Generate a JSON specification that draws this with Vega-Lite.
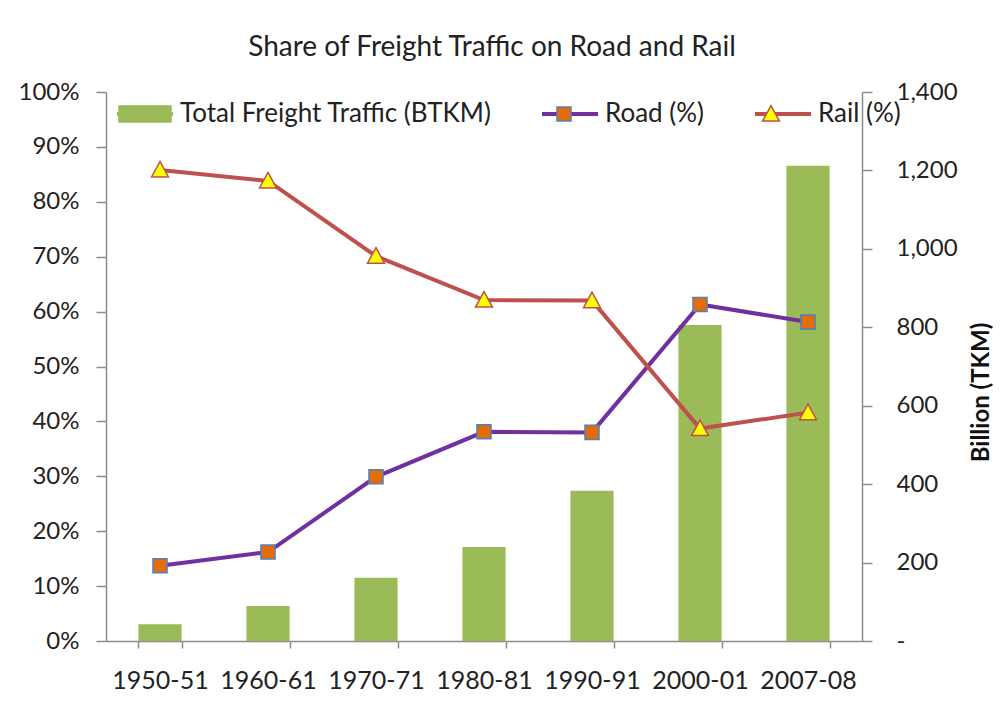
{
  "$schema": "https://vega.github.io/schema/vega-lite/v6.json",
  "autosize": "none",
  "width": 756,
  "height": 549,
  "padding": {"left": 106, "top": 92, "right": 143, "bottom": 67},
  "background": "white",
  "config": {
    "font": "Lato",
    "view": {"stroke": null},
    "axis": {"labelFont": "Lato", "labelFontSize": 24, "labelColor": "#222222", "domainColor": "#8c8c8c", "tickColor": "#8c8c8c", "domainWidth": 1.5, "tickWidth": 1.5, "grid": false},
    "legend": {"labelFont": "Lato", "labelFontSize": 26, "labelColor": "#222222", "labelLimit": 0}
  },
  "title": {"text": "Share of Freight Traffic on Road and Rail", "fontSize": 28, "font": "Lato", "fontWeight": "normal", "color": "#222222", "anchor": "middle", "dx": 8, "offset": 18},
  "data": {"values": [
    {"period": "1950-51", "series": "Total Freight Traffic (BTKM)", "value": 43},
    {"period": "1960-61", "series": "Total Freight Traffic (BTKM)", "value": 89},
    {"period": "1970-71", "series": "Total Freight Traffic (BTKM)", "value": 161},
    {"period": "1980-81", "series": "Total Freight Traffic (BTKM)", "value": 240},
    {"period": "1990-91", "series": "Total Freight Traffic (BTKM)", "value": 383},
    {"period": "2000-01", "series": "Total Freight Traffic (BTKM)", "value": 806},
    {"period": "2007-08", "series": "Total Freight Traffic (BTKM)", "value": 1212},
    {"period": "1950-51", "series": "Road (%)", "value": 13.7},
    {"period": "1960-61", "series": "Road (%)", "value": 16.2},
    {"period": "1970-71", "series": "Road (%)", "value": 29.9},
    {"period": "1980-81", "series": "Road (%)", "value": 38.1},
    {"period": "1990-91", "series": "Road (%)", "value": 38.0},
    {"period": "2000-01", "series": "Road (%)", "value": 61.3},
    {"period": "2007-08", "series": "Road (%)", "value": 58.1},
    {"period": "1950-51", "series": "Rail (%)", "value": 85.8},
    {"period": "1960-61", "series": "Rail (%)", "value": 83.8},
    {"period": "1970-71", "series": "Rail (%)", "value": 70.1},
    {"period": "1980-81", "series": "Rail (%)", "value": 62.1},
    {"period": "1990-91", "series": "Rail (%)", "value": 62.0},
    {"period": "2000-01", "series": "Rail (%)", "value": 38.7},
    {"period": "2007-08", "series": "Rail (%)", "value": 41.6}
  ]},
  "encoding": {
    "x": {
      "field": "period", "type": "ordinal",
      "scale": {"paddingInner": 0.6, "paddingOuter": 0.3},
      "axis": {"title": null, "labelAngle": 0, "labelFontSize": 25, "tickBand": "extent", "tickSize": 7, "labelPadding": 20}
    }
  },
  "layer": [
    {
      "transform": [{"filter": "datum.series === 'Total Freight Traffic (BTKM)'"}],
      "mark": {"type": "bar"},
      "encoding": {
        "y": {
          "field": "value", "type": "quantitative",
          "scale": {"domain": [0, 1400], "nice": false},
          "axis": {
            "orient": "right", "values": [0, 200, 400, 600, 800, 1000, 1200, 1400],
            "labelExpr": "datum.value === 0 ? '-' : format(datum.value, ',')",
            "tickSize": 10, "labelPadding": 24,
            "title": "Billion (TKM)", "titleFontSize": 24, "titleFontWeight": "bold", "titleColor": "#111111",
            "titleAngle": 270, "titleX": 119, "titleY": 300, "titleAlign": "center", "titleBaseline": "middle"
          }
        },
        "color": {
          "field": "series", "type": "nominal",
          "scale": {"domain": ["Total Freight Traffic (BTKM)", "Road (%)", "Rail (%)"], "range": ["#9BBB59", "#7030A0", "#C0504D"]},
          "legend": {
            "title": null, "orient": "none", "legendX": 9, "legendY": -8, "direction": "horizontal",
            "padding": 0, "symbolSize": 3136, "symbolStrokeWidth": 4, "labelOffset": 5, "columnPadding": 42,
            "symbolType": "M-1,0H1", "symbolOpacity": 1
          }
        }
      }
    },
    {
      "transform": [{"filter": "datum.series !== 'Total Freight Traffic (BTKM)'"}],
      "encoding": {
        "y": {
          "field": "value", "type": "quantitative",
          "scale": {"domain": [0, 100], "nice": false},
          "axis": {
            "orient": "left", "values": [0, 10, 20, 30, 40, 50, 60, 70, 80, 90, 100],
            "labelExpr": "datum.value + '%'", "tickSize": 10, "labelPadding": 17, "title": null
          }
        }
      },
      "layer": [
        {
          "mark": {"type": "line", "strokeWidth": 4},
          "encoding": {
            "color": {"field": "series", "type": "nominal"}
          }
        },
        {
          "mark": {"type": "point", "filled": true, "opacity": 1, "size": 3422, "strokeWidth": 1.5},
          "encoding": {
            "shape": {
              "field": "series", "type": "nominal",
              "scale": {"domain": ["Total Freight Traffic (BTKM)", "Road (%)", "Rail (%)", "zz"], "range": ["M-0.889,-0.274H0.889V0.274H-0.889Z", "M-0.24,-0.24H0.24V0.24H-0.24Z", "M0,-0.29L0.29,0.24H-0.29Z", "M0,0"]},
              "legend": {
                "title": null, "orient": "none", "legendX": 9, "legendY": -8, "direction": "horizontal",
                "padding": 0, "symbolSize": 3422.25, "labelOffset": 5, "columnPadding": 42, "labelColor": "transparent",
                "labelExpr": "datum.value === 'zz' ? '' : datum.label",
                "symbolOpacity": 1, "symbolStrokeWidth": 1.5
              }
            },
            "fill": {
              "field": "series", "type": "nominal",
              "scale": {"domain": ["Total Freight Traffic (BTKM)", "Road (%)", "Rail (%)", "zz"], "range": ["#9BBB59", "#E46C0A", "#FFFF00", "transparent"]}
            },
            "stroke": {
              "field": "series", "type": "nominal",
              "scale": {"domain": ["Total Freight Traffic (BTKM)", "Road (%)", "Rail (%)", "zz"], "range": ["#9BBB59", "#4F81BD", "#C0504D", "transparent"]}
            }
          }
        }
      ]
    }
  ],
  "resolve": {"scale": {"y": "independent"}}
}
